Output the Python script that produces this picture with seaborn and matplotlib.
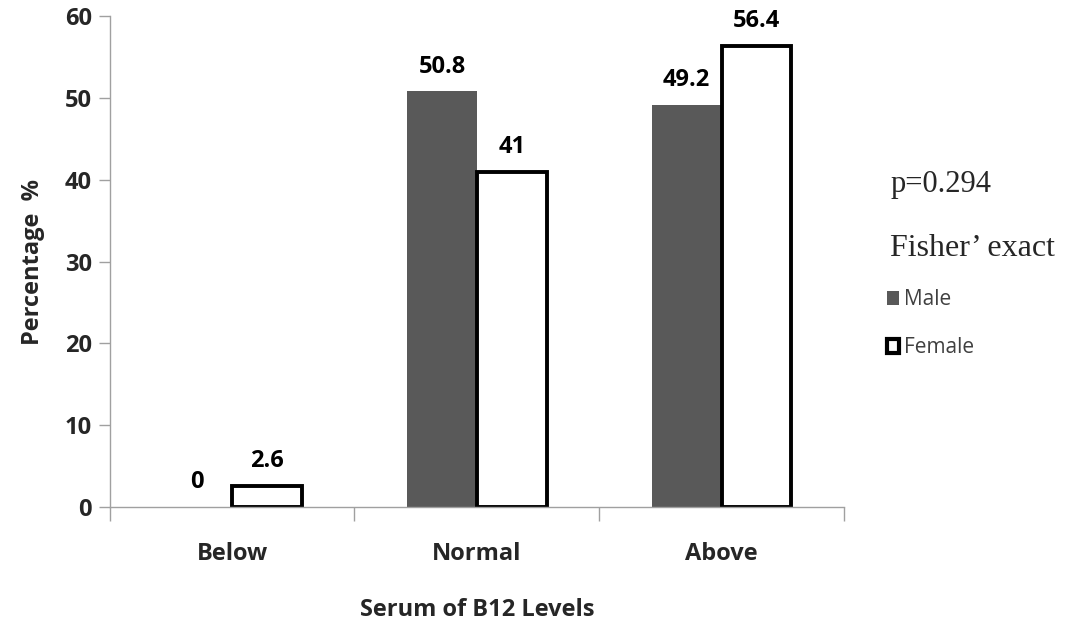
import matplotlib
matplotlib.use("Agg")
import matplotlib.pyplot as plt
from matplotlib.patches import Patch
import seaborn as sns
import pandas as pd

categories = ["Below", "Normal", "Above"]
male = [0, 50.8, 49.2]
female = [2.6, 41, 56.4]
value_labels_male = ["0", "50.8", "49.2"]
value_labels_female = ["2.6", "41", "56.4"]

df = pd.DataFrame({
    "level": categories * 2,
    "pct": male + female,
    "sex": ["Male"] * 3 + ["Female"] * 3,
})

sns.set_theme(style="white")
plt.rcParams["font.family"] = ["Open Sans", "DejaVu Sans"]

fig = plt.figure(figsize=(10.65, 6.22), dpi=100)
ax = fig.add_axes([0.103, 0.185, 0.6895, 0.789])

male_color = "#595959"
sns.barplot(data=df, x="level", y="pct", hue="sex", order=categories,
            hue_order=["Male", "Female"],
            palette={"Male": male_color, "Female": "white"},
            width=0.57, ax=ax, legend=False, saturation=1)

for bar in ax.containers[0]:
    bar.set_edgecolor("none")
for bar in ax.containers[1]:
    bar.set_edgecolor("black")
    bar.set_linewidth(2.8)

ax.bar_label(ax.containers[0], labels=value_labels_male, padding=9,
             fontsize=17, fontweight="bold", color="black")
ax.bar_label(ax.containers[1], labels=value_labels_female, padding=9,
             fontsize=17, fontweight="bold", color="black")

ax.set_ylim(0, 60)
ax.set_xlim(-0.5, 2.5)
ax.set_yticks(range(0, 61, 10))
ax.tick_params(axis="y", which="major", length=8, width=1, color="#a0a0a0",
               labelsize=17, pad=5, left=True)
for lbl in ax.get_yticklabels():
    lbl.set_fontweight("bold")

# category labels at centres, tick marks at category boundaries
ax.set_xticks([0, 1, 2])
ax.set_xticklabels(categories, fontsize=17, fontweight="bold")
ax.tick_params(axis="x", which="major", length=0, pad=25)
ax.set_xticks([-0.5, 0.5, 1.5, 2.5], minor=True)
ax.tick_params(axis="x", which="minor", length=10, width=1, color="#a0a0a0",
               bottom=True, direction="out")

for side in ["top", "right"]:
    ax.spines[side].set_visible(False)
for side in ["left", "bottom"]:
    ax.spines[side].set_color("#a0a0a0")
    ax.spines[side].set_linewidth(1)

ax.set_ylabel("Percentage  %", fontsize=17, fontweight="bold", labelpad=14)
ax.set_xlabel("Serum of B12 Levels", fontsize=17, fontweight="bold", labelpad=23)

fig.text(0.836, 0.7026, "p=0.294", fontsize=22, family="Liberation Serif",
         va="center", ha="left")
fig.text(0.836, 0.601, "Fisher\u2019 exact", fontsize=23, family="Liberation Serif",
         va="center", ha="left")

handles = [Patch(facecolor=male_color, edgecolor="none", label="Male"),
           Patch(facecolor="white", edgecolor="black", linewidth=3, label="Female")]
fig.legend(handles=handles, loc="upper left", bbox_to_anchor=(0.815, 0.565),
           frameon=False, fontsize=15, handlelength=0.6, handleheight=0.6,
           handletextpad=0.25, labelspacing=1.3, labelcolor="#404040")

fig.savefig("out.png", dpi=100)
